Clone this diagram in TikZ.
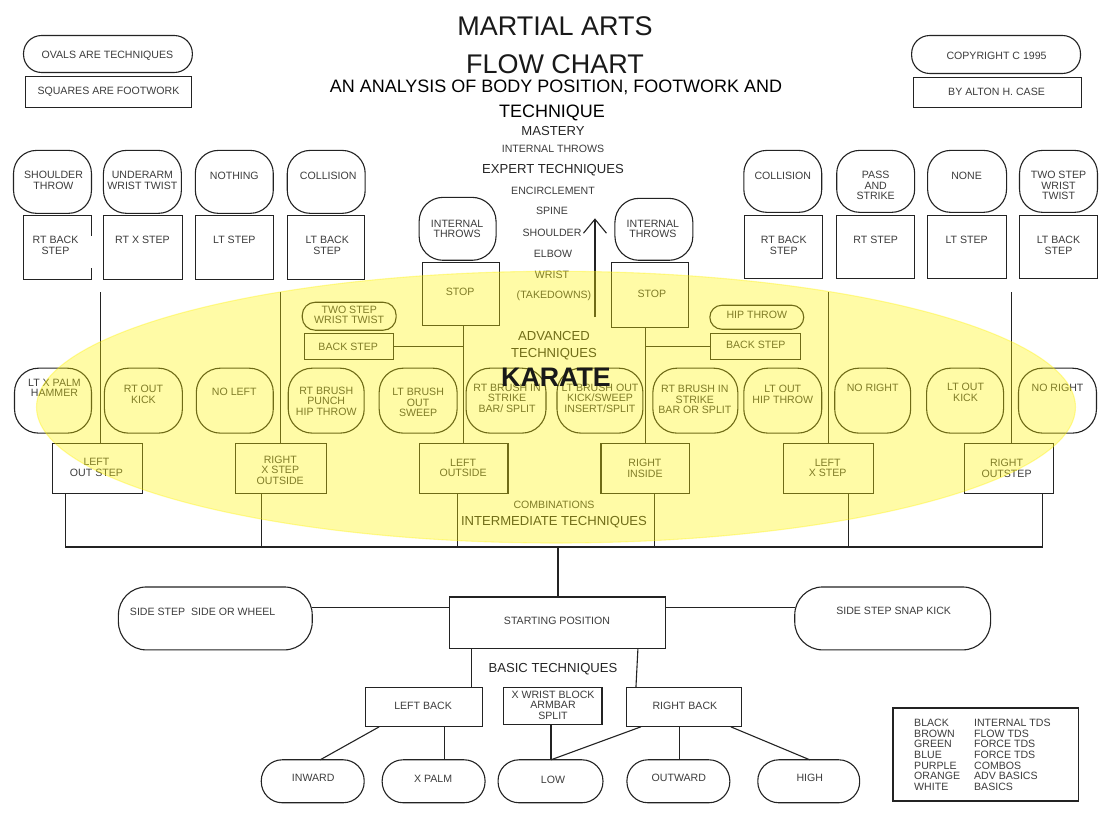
\documentclass[tikz,border=0pt]{standalone}
\usepackage{fontspec}
\setmainfont{Liberation Sans}
\usetikzlibrary{arrows.meta}
\definecolor{ink}{RGB}{35,35,35}
\definecolor{txtgray}{RGB}{60,60,60}
\definecolor{highlight}{RGB}{255,244,0}

% shape node given by its corners: style, name, x0, y0, x1, y1
\newcommand\shp[6]{\node[#1, minimum width={#5-#3}, minimum height={#6-#4}] (#2) at ({(#3+#5)/2},{(#4+#6)/2}) {};}

\tikzset{
  every path/.style={line width=1.1pt, draw=ink},
  box/.style={draw, rectangle, inner sep=0pt, outer sep=0pt},
  oval/.style={draw, rectangle, rounded corners=#1, inner sep=0pt, outer sep=0pt},
  oval/.default=23pt,
  keybox/.style={draw, rectangle, inner sep=0pt, outer sep=0pt, line width=1.8pt},
  txt/.style={inner sep=0pt, align=center, text=txtgray, font=\fontsize{10.6}{10.6}\selectfont},
  mid/.style={inner sep=0pt, align=center, text=black!85, font=\fontsize{13.1}{17}\selectfont},
  link/.style={line width=1.1pt, draw=ink},
}

\begin{document}
\begin{tikzpicture}[x=1pt, y=-1pt]
\useasboundingbox (0,0) rectangle (1103,815);
\fill[white] (0,0) rectangle (1103,815);

% ---------- headings ----------
\node[inner sep=0pt, font=\fontsize{27}{27}\selectfont, text=black!90] (title1) at (555,26) {MARTIAL ARTS};
\node[inner sep=0pt, font=\fontsize{27}{27}\selectfont, text=black!90] (title2) at (555,64) {FLOW CHART};
\node[inner sep=0pt, font=\fontsize{18}{18}\selectfont] (sub1) at (556,87) {AN ANALYSIS OF BODY POSITION, FOOTWORK AND};
\node[inner sep=0pt, font=\fontsize{18}{18}\selectfont] (sub2) at (552,112) {TECHNIQUE};

% ---------- key corners ----------
\shp{oval=18pt}{lgOval}{23}{35}{192}{72}
\node[txt] (lgOvalT) at (107,55) {OVALS ARE TECHNIQUES};
\shp{box}{lgBox}{25}{76}{191}{107}
\node[txt] (lgBoxT) at (108,91) {SQUARES ARE FOOTWORK};
\shp{oval=18pt}{cpOval}{912}{35}{1081}{73}
\node[txt] (cpOvalT) at (997,55) {COPYRIGHT C 1995};
\shp{box}{auBox}{914}{77}{1082}{107}
\node[txt] (auBoxT) at (997,91) {BY ALTON H. CASE};

% ---------- centre column ----------
\node[mid] (mastery) at (553,131) {MASTERY};
\node[txt] (ithrows) at (553,148) {INTERNAL THROWS};
\node[mid] (expert) at (553,170) {EXPERT TECHNIQUES};
\node[txt] (encircle) at (553,190) {ENCIRCLEMENT};
\node[txt] (spine) at (552,211) {SPINE};
\node[txt] (shoulder) at (552,233) {SHOULDER};
\node[txt] (elbow) at (553,254) {ELBOW};
\node[txt] (wrist) at (552,275) {WRIST};
\node[txt] (takedowns) at (554,296) {(TAKEDOWNS)};
\coordinate (arrB) at (595,317);
\coordinate (arrT) at (595,218);
\draw[-{Straight Barb[length=14pt,width=23pt,line width=1.1pt]}] (arrB) -- (arrT);

% ---------- top row, left ----------
\shp{oval}{o1}{13}{150}{91}{213}
\node[txt] (o1t) at (53,180) {SHOULDER\\THROW};
\shp{box}{b1}{23}{215}{91}{279}
% break in the right side of the first box
\draw[white, line width=2.4pt] (b1.east |- 0,236) -- (b1.east |- 0,268);
\node[txt] (b1t) at (55,245) {RT BACK\\STEP};
\shp{oval}{o2}{103}{150}{181}{213}
\node[txt] (o2t) at (142,180) {UNDERARM\\WRIST TWIST};
\shp{box}{b2}{103}{215}{182}{279}
\node[txt] (b2t) at (142,240) {RT X STEP};
\shp{oval}{o3}{195}{150}{273}{213}
\node[txt] (o3t) at (234,175) {NOTHING};
\shp{box}{b3}{195}{215}{273}{279}
\node[txt] (b3t) at (234,240) {LT STEP};
\shp{oval}{o4}{287}{150}{365}{213}
\node[txt] (o4t) at (328,175) {COLLISION};
\shp{box}{b4}{287}{215}{364}{279}
\node[txt] (b4t) at (327,245) {LT BACK\\STEP};

% ---------- top row, right ----------
\shp{oval}{o5}{744}{150}{822}{212}
\node[txt] (o5t) at (783,175) {COLLISION};
\shp{box}{b5}{745}{215}{823}{278}
\node[txt] (b5t) at (784,245) {RT BACK\\STEP};
\shp{oval}{o6}{837}{150}{915}{212}
\node[txt] (o6t) at (876,185) {PASS\\AND\\STRIKE};
\shp{box}{b6}{837}{215}{915}{278}
\node[txt] (b6t) at (876,240) {RT STEP};
\shp{oval}{o7}{928}{150}{1007}{212}
\node[txt] (o7t) at (967,175) {NONE};
\shp{box}{b7}{928}{215}{1007}{278}
\node[txt] (b7t) at (967,240) {LT STEP};
\shp{oval}{o8}{1020}{150}{1098}{212}
\node[txt] (o8t) at (1059,185) {TWO STEP\\WRIST\\TWIST};
\shp{box}{b8}{1020}{215}{1098}{278}
\node[txt] (b8t) at (1059,245) {LT BACK\\STEP};

% ---------- internal throws / stop ----------
\shp{oval=24pt}{itL}{419}{197}{496}{260}
\node[txt] (itLt) at (457,228.5) {INTERNAL\\THROWS};
\shp{box}{stopL}{422}{262}{499}{325}
\node[txt] (stopLt) at (460,292) {STOP};
\shp{oval=24pt}{itR}{615}{198}{693}{260}
\node[txt] (itRt) at (653,228.5) {INTERNAL\\THROWS};
\shp{box}{stopR}{612}{262}{689}{327}
\node[txt] (stopRt) at (652,294) {STOP};

% ---------- back-step branches ----------
\shp{oval=13pt}{so1}{302}{302}{396}{330}
\node[txt] (so1t) at (349,314.5) {TWO STEP\\WRIST TWIST};
\shp{box}{bs1}{304}{333}{393}{359}
\node[txt] (bs1t) at (348,347) {BACK STEP};
\shp{oval=12pt}{so2}{710}{305}{804}{329}
\node[txt] (so2t) at (757,315) {HIP THROW};
\shp{box}{bs2}{711}{333}{801}{359}
\node[txt] (bs2t) at (756,345) {BACK STEP};

% ---------- technique row ----------
\shp{oval=24pt}{m1}{14}{368}{91}{433}
\node[txt] (m1t) at (54,387.5) {LT X PALM\\HAMMER};
\shp{oval=24pt}{m2}{104}{368}{182}{433}
\node[txt] (m2t) at (143,394) {RT OUT\\KICK};
\shp{oval=24pt}{m3}{196}{368}{273}{433}
\node[txt] (m3t) at (234,392) {NO LEFT};
\shp{oval=24pt}{m4}{288}{368}{364}{433}
\node[txt] (m4t) at (326,401) {RT BRUSH\\PUNCH\\HIP THROW};
\shp{oval=24pt}{m5}{379}{368}{457}{433}
\node[txt] (m5t) at (418,402.5) {LT BRUSH\\OUT\\SWEEP};
\shp{oval=24pt}{m6}{466}{368}{546}{433}
\node[txt] (m6t) at (507,398) {RT BRUSH IN\\STRIKE\\BAR/ SPLIT};
\shp{oval=24pt}{m7}{557}{368}{643}{433}
\node[txt] (m7t) at (600,398) {LT BRUSH OUT\\KICK/SWEEP\\INSERT/SPLIT};
\shp{oval=24pt}{m8}{653}{368}{738}{433}
\node[txt] (m8t) at (695,399.5) {RT BRUSH IN\\STRIKE\\BAR OR SPLIT};
\shp{oval=24pt}{m9}{744}{368}{822}{433}
\node[txt] (m9t) at (783,394) {LT OUT\\HIP THROW};
\shp{oval=24pt}{m10}{835}{368}{911}{433}
\node[txt] (m10t) at (873,388) {NO RIGHT};
\shp{oval=24pt}{m11}{927}{368}{1004}{433}
\node[txt] (m11t) at (966,392) {LT OUT\\KICK};
\shp{oval=24pt}{m12}{1019}{368}{1097}{433}
\node[txt] (m12t) at (1058,388) {NO RIGHT};

% ---------- footwork row ----------
\shp{box}{f1}{52}{443}{142}{493}
\node[txt] (f1t) at (96,467.5) {LEFT\\OUT STEP};
\shp{box}{f2}{235}{443}{326}{493}
\node[txt] (f2t) at (280,470) {RIGHT\\X STEP\\OUTSIDE};
\shp{box}{f3}{419}{443}{508}{493}
\node[txt] (f3t) at (463,468) {LEFT\\OUTSIDE};
\shp{box}{f4}{601}{443}{690}{493}
\node[txt] (f4t) at (645,468) {RIGHT\\INSIDE};
\shp{box}{f5}{784}{443}{874}{493}
\node[txt] (f5t) at (828,468) {LEFT\\X STEP};
\shp{box}{f6}{965}{443}{1054}{493}
\node[txt] (f6t) at (1007,468) {RIGHT\\OUTSTEP};

% drop lines from the upper footwork
\coordinate (t1) at (100,292);
\coordinate (t2) at (280,292);
\coordinate (t3) at (829,292);
\coordinate (t4) at (1012,292);
\draw[link] (t1) -- (t1 |- f1.north);
\draw[link] (t2) -- (t2 |- f2.north);
\draw[link] (t3) -- (t3 |- f5.north);
\draw[link] (t4) -- (t4 |- f6.north);

% stop columns and back steps
\draw[link] (stopL.south -| f3.north) -- (f3.north);
\draw[link] (bs1.east) -- (bs1.east -| f3.north);
\draw[link] (stopR.south -| f4.north) -- (f4.north);
\draw[link] (bs2.west) -- (bs2.west -| f4.north);

% combination bus
\coordinate (u1) at (65,547);
\coordinate (u2) at (261,547);
\coordinate (u3) at (457,547);
\coordinate (u4) at (655,547);
\coordinate (u5) at (849,547);
\coordinate (u6) at (1043,547);
\coordinate (uc) at (558,547);
\draw[link] (u1 |- f1.south) -- (u1);
\draw[link] (u2 |- f2.south) -- (u2);
\draw[link] (u3 |- f3.south) -- (u3);
\draw[link] (u4 |- f4.south) -- (u4);
\draw[link] (u5 |- f5.south) -- (u5);
\draw[link] (u6 |- f6.south) -- (u6);
\draw[link] (u1) -- (u6);

% ---------- start and basics ----------
\shp{box}{start}{449}{597}{666}{649}
\node[txt] (startt) at (557,621) {STARTING POSITION};
\draw[link] (uc) -- (uc |- start.north);
\shp{oval=28pt}{sideL}{118}{587}{312}{650}
\node[txt, anchor=west] (sideLt) at (129,612) {SIDE STEP\ \ SIDE OR WHEEL};
\shp{oval=28pt}{sideR}{795}{587}{991}{650}
\node[txt] (sideRt) at (894,611) {SIDE STEP SNAP KICK};
\draw[link] (sideL.east |- 0,608) -- (start.west |- 0,608);
\draw[link] (start.east |- 0,608) -- (sideR.west |- 0,608);

\node[mid] (basic) at (553,669) {BASIC TECHNIQUES};
\shp{box}{lback}{365}{688}{482}{727}
\node[txt] (lbackt) at (423,706) {LEFT BACK};
\shp{box}{xwrist}{503}{688}{602}{725}
\node[txt] (xwristt) at (553,705.5) {X WRIST BLOCK\\ARMBAR\\SPLIT};
\shp{box}{rback}{627}{688}{742}{727}
\node[txt] (rbackt) at (685,706) {RIGHT BACK};
\draw[link] ([xshift=22pt]start.south west) -- ([xshift=47.5pt]lback.north);
\draw[link] ([xshift=-28pt]start.south east) -- ([xshift=-48.5pt]rback.north);

\shp{oval=21pt}{inward}{261}{760}{364}{803}
\node[txt] (inwardt) at (313,778) {INWARD};
\shp{oval=21pt}{xpalm}{382}{760}{485}{803}
\node[txt] (xpalmt) at (433,779) {X PALM};
\shp{oval=21pt}{low}{498}{760}{603}{803}
\node[txt] (lowt) at (553,780) {LOW};
\shp{oval=21pt}{outward}{627}{760}{730}{803}
\node[txt] (outwardt) at (679,778) {OUTWARD};
\shp{oval=21pt}{high}{758}{760}{860}{803}
\node[txt] (hight) at (810,778) {HIGH};

\draw[link] ([xshift=14pt]lback.south west) -- ([xshift=7.5pt]inward.north);
\draw[link] ([xshift=79pt]lback.south west) -- ([xshift=10.5pt]xpalm.north);
\draw[link] ([xshift=-1.5pt]xwrist.south) -- ([xshift=0.5pt]low.north);
\draw[link] ([xshift=14pt]rback.south west) -- ([xshift=0.5pt]low.north);
\draw[link] ([xshift=-4.5pt]rback.south) -- ([xshift=1.5pt]outward.north);
\draw[link] ([xshift=-11pt]rback.south east) -- ([xshift=1pt]high.north);

% ---------- colour key ----------
\shp{keybox}{key}{893}{708}{1079}{801}
\node[txt, align=left, anchor=west, font=\fontsize{10.6}{10.67}\selectfont] (keyA) at (914,755)
  {BLACK\\BROWN\\GREEN\\BLUE\\PURPLE\\ORANGE\\WHITE};
\node[txt, align=left, anchor=west, font=\fontsize{10.6}{10.67}\selectfont] (keyB) at (974,755)
  {INTERNAL TDS\\FLOW TDS\\FORCE TDS\\FORCE TDS\\COMBOS\\ADV BASICS\\BASICS};

% ---------- karate band ----------
\node[mid] (advanced) at (554,345.5) {ADVANCED\\TECHNIQUES};
\node[txt] (combos) at (554,505) {COMBINATIONS};
\node[mid] (intermediate) at (554,522) {INTERMEDIATE TECHNIQUES};
\fill[highlight, opacity=0.35] (556,407) ellipse [x radius=520, y radius=136];
\node[inner sep=0pt, font=\bfseries\fontsize{26.8}{26.8}\selectfont, text=black!90] (karate) at (556,377) {KARATE};
\end{tikzpicture}
\end{document}
